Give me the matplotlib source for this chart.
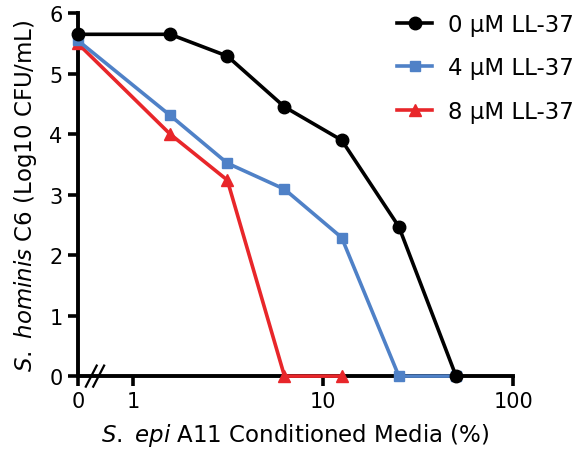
import matplotlib
matplotlib.use("Agg")
import matplotlib.pyplot as plt

plt.rcParams["font.family"] = "DejaVu Sans"
plt.rcParams["mathtext.fontset"] = "custom"
plt.rcParams["mathtext.it"] = "DejaVu Sans:italic"
plt.rcParams["mathtext.rm"] = "DejaVu Sans"

# 0 % media is drawn at the left end of the log axis
zero_pos = 0.51
conc = [zero_pos, 1.5625, 3.125, 6.25, 12.5, 25, 50]
ll0 = [5.65, 5.65, 5.29, 4.45, 3.90, 2.47, 0.0]
ll4 = [5.55, 4.31, 3.52, 3.09, 2.29, 0.0, 0.0]
ll8 = [5.50, 4.00, 3.24, 0.0, 0.0]
labels = ["0 μM LL-37", "4 μM LL-37", "8 μM LL-37"]
xticks = [zero_pos, 1, 10, 100]
xticklabels = ["0", "1", "10", "100"]

fig = plt.figure(figsize=(5.76, 4.56), dpi=100)
ax = fig.add_axes([0.135, 0.173, 0.756, 0.796])

ax.plot(conc, ll0, color="black", lw=2.6, marker="o", ms=9,
        label=labels[0], clip_on=False, zorder=5)
ax.plot(conc, ll4, color="#4f81c7", lw=2.6, marker="s", ms=7.5,
        label=labels[1], clip_on=False, zorder=4)
ax.plot(conc[:5], ll8, color="#e8262a", lw=2.6, marker="^", ms=8,
        label=labels[2], clip_on=False, zorder=3)

ax.set_xscale("log")
ax.set_xlim(zero_pos, 100)
ax.set_ylim(0, 6)
ax.set_xticks(xticks)
ax.set_xticklabels(xticklabels)
ax.minorticks_off()
ax.set_yticks(range(7))

for side in ["top", "right"]:
    ax.spines[side].set_visible(False)
for side in ["left", "bottom"]:
    ax.spines[side].set_linewidth(2.8)
ax.tick_params(width=2.6, length=7, labelsize=15, pad=4)

# axis break marks
for cx in [0.031, 0.048]:
    ax.plot([cx - 0.0125, cx + 0.0125], [-0.029, 0.029], color="black",
            lw=1.6, transform=ax.transAxes, clip_on=False, zorder=6)

ax.set_xlabel(r"$\it{S.}$ $\it{epi}$ A11 Conditioned Media (%)",
              fontsize=16.5, labelpad=7)
ax.set_ylabel(r"$\it{S.}$ $\it{hominis}$ C6 (Log10 CFU/mL)",
              fontsize=16.5, labelpad=7)

fig.legend(frameon=False, loc="upper right", bbox_to_anchor=(1.012, 0.99),
           fontsize=16.5, handlelength=1.5, handletextpad=0.7,
           labelspacing=0.9, borderaxespad=0.0)

fig.savefig("out.png", dpi=100)
